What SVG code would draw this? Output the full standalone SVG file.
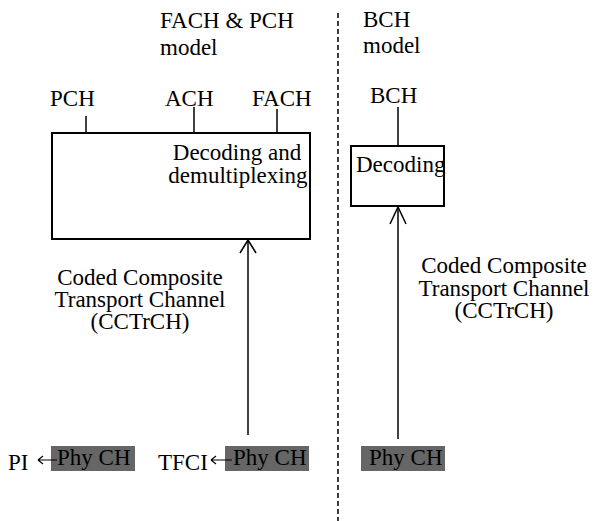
<svg xmlns="http://www.w3.org/2000/svg" width="594" height="521" viewBox="0 0 594 521">
<style>
text{font-family:"Liberation Serif","Times New Roman",serif;font-size:23px;fill:#000}
.ln{stroke:#000;stroke-width:1.5;fill:none}
.box{stroke:#000;stroke-width:2;fill:#fff}
.phy{fill:#666666}
.mid{text-anchor:middle}
</style>
<rect width="594" height="521" fill="#fff"/>
<g id="titles">
<text x="160" y="28">FACH &amp; PCH</text>
<text x="160" y="55">model</text>
<text x="363" y="27">BCH</text>
<text x="363" y="53">model</text>
</g>
<g id="separator">
<line x1="338" y1="13" x2="338" y2="521" stroke="#000" stroke-width="1.5" stroke-dasharray="5,3"/>
</g>
<g id="decoding-demux">
<rect class="box" x="52" y="133" width="258" height="106"/>
<text class="mid" x="237" y="160">Decoding and</text>
<text class="mid" x="238" y="183">demultiplexing</text>
</g>
<g id="pch">
<text x="50" y="106">PCH</text>
</g>
<g id="ach">
<text x="165" y="106">ACH</text>
</g>
<g id="fach">
<text x="252" y="106">FACH</text>
</g>
<g id="bch-decoding">
<rect class="box" x="351" y="146" width="93" height="60"/>
<text x="356" y="172">Decoding</text>
</g>
<g id="bch">
<text x="370" y="103">BCH</text>
</g>
<g id="cctrch-left">
<text class="mid" x="140" y="285">Coded Composite</text>
<text class="mid" x="140" y="307">Transport Channel</text>
<text class="mid" x="140" y="329">(CCTrCH)</text>
</g>
<g id="cctrch-right">
<text class="mid" x="504" y="273">Coded Composite</text>
<text class="mid" x="504" y="296">Transport Channel</text>
<text class="mid" x="504" y="318">(CCTrCH)</text>
</g>
<g id="phych-pi">
<rect class="phy" x="51" y="446" width="84" height="25"/>
<text x="57" y="465">Phy CH</text>
</g>
<g id="pi">
<text x="8" y="470">PI</text>
</g>
<g id="phych-tfci">
<rect class="phy" x="225" y="446" width="84" height="25"/>
<text x="233" y="465">Phy CH</text>
</g>
<g id="tfci">
<text x="158" y="470">TFCI</text>
</g>
<g id="phych-bch">
<rect class="phy" x="361" y="446" width="84" height="25"/>
<text x="369" y="465">Phy CH</text>
</g>
<g id="connectors">
<line class="ln" x1="86" y1="116" x2="86" y2="133"/>
<line class="ln" x1="194" y1="107" x2="194" y2="133"/>
<line class="ln" x1="277" y1="109" x2="277" y2="133"/>
<line class="ln" x1="398" y1="107" x2="398" y2="146"/>
<line class="ln" x1="248" y1="435" x2="248" y2="240"/>
<path class="ln" d="M240,253 L248,240 L256,253"/>
<line class="ln" x1="398" y1="439" x2="398" y2="207"/>
<path class="ln" d="M390,224 L398,207 L406,224"/>
<path stroke="#000" stroke-width="1.2" fill="none" d="M38,460 H57 M38,460 L43,456 M38,460 L43,464"/>
<path stroke="#000" stroke-width="1.2" fill="none" d="M211,460 H232 M211,460 L216,456 M211,460 L216,464"/>
</g>
</svg>
